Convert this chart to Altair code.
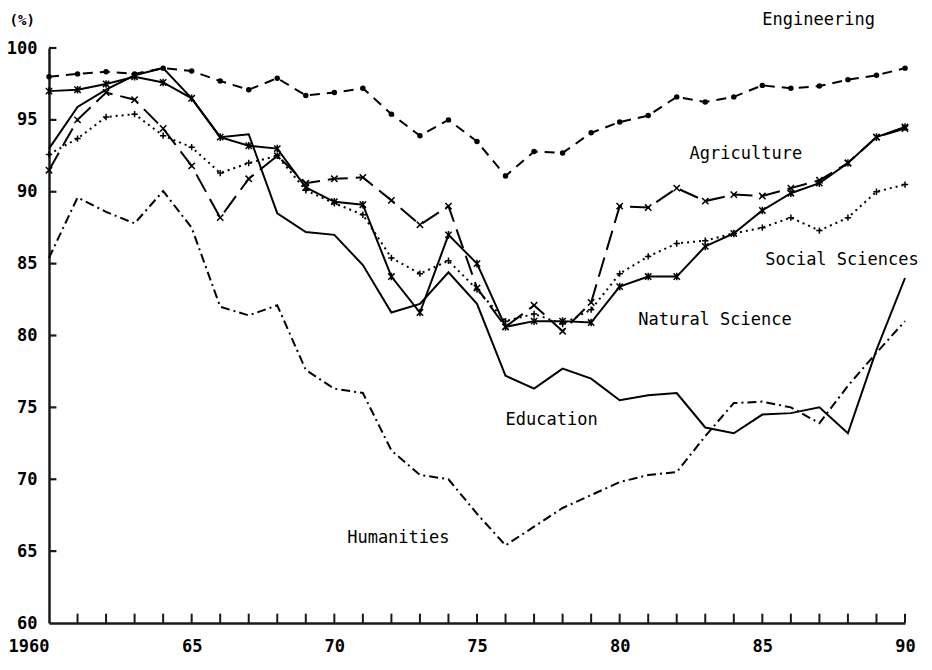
import altair as alt
import pandas as pd

years = list(range(1960, 1991))

engineering = [98.0, 98.2, 98.35, 98.2, 98.6, 98.4, 97.7, 97.1, 97.9, 96.7,
               96.9, 97.2, 95.4, 93.9, 95.0, 93.5, 91.1, 92.8, 92.7, 94.1,
               94.85, 95.3, 96.6, 96.25, 96.6, 97.4, 97.2, 97.35, 97.8, 98.1, 98.6]
agriculture = [91.5, 95.0, 96.9, 96.4, 94.4, 91.8, 88.2, 90.9, 92.5, 90.6,
               90.9, 91.0, 89.4, 87.7, 89.0, 83.3, 80.6, 82.1, 80.3, 82.3,
               89.0, 88.9, 90.25, 89.35, 89.8, 89.7, 90.25, 90.8, 92.0, 93.8, 94.4]
natural_science = [97.0, 97.1, 97.5, 98.0, 97.6, 96.5, 93.8, 93.2, 93.0, 90.3,
                   89.3, 89.1, 84.1, 81.6, 87.0, 85.0, 80.6, 81.0, 81.0, 80.9,
                   83.4, 84.1, 84.1, 86.2, 87.1, 88.7, 89.9, 90.6, 92.0, 93.8, 94.5]
social_sciences = [92.6, 93.7, 95.2, 95.4, 93.9, 93.1, 91.3, 92.0, 92.5, 90.1,
                   89.2, 88.4, 85.4, 84.3, 85.2, 83.2, 81.0, 81.5, 80.8, 81.8,
                   84.3, 85.5, 86.4, 86.6, 87.1, 87.5, 88.2, 87.3, 88.2, 90.0, 90.5]
education = [93.0, 95.9, 97.1, 98.1, 98.6, 96.5, 93.8, 94.0, 88.5, 87.2,
             87.0, 84.9, 81.6, 82.2, 84.4, 82.2, 77.2, 76.3, 77.7, 77.0,
             75.5, 75.85, 76.0, 73.6, 73.2, 74.5, 74.6, 75.0, 73.2, 79.0, 84.0]
humanities = [85.4, 89.6, 88.6, 87.8, 90.05, 87.5, 82.0, 81.4, 82.1, 77.6,
              76.3, 76.0, 72.0, 70.3, 70.0, 67.6, 65.4, 66.7, 68.0, 68.9,
              69.8, 70.3, 70.5, 73.0, 75.3, 75.4, 75.0, 73.9, 76.5, 78.8, 81.0]

x_tick_values = [1960, 1965, 1970, 1975, 1980, 1985, 1990]
x_tick_labels = ["1960", "65", "70", "75", "80", "85", "90"]
y_tick_values = [60, 65, 70, 75, 80, 85, 90, 95, 100]

label_names = ["Engineering", "Agriculture", "Social Sciences", "Natural Science", "Education", "Humanities"]
label_x = [1985.0, 1982.45, 1985.1, 1980.65, 1976.0, 1970.45]
label_y = [101.95, 92.6, 85.25, 81.05, 74.1, 65.9]

FONT = "DejaVu Sans Mono"
INK = "#1a1a1a"
X_MIN, X_MAX, Y_MIN, Y_MAX = 1960, 1990, 60, 100

xscale = alt.Scale(domain=[X_MIN, X_MAX], nice=False, zero=False)
yscale = alt.Scale(domain=[Y_MIN, Y_MAX], nice=False, zero=False)

label_expr = " : ".join(
    f"datum.value == {v} ? '{t}'" for v, t in zip(x_tick_values, x_tick_labels)
) + " : ''"

X_AX = alt.Axis(values=x_tick_values, labelExpr=label_expr, ticks=False, grid=False,
                title=None, labelPadding=15, labelFontSize=17, domain=True,
                domainColor=INK, domainWidth=2.5,
                labelAlign={"condition": {"test": "datum.value == 1960", "value": "right"}, "value": "center"})
Y_AX = alt.Axis(values=y_tick_values, ticks=False, grid=False, title=None, labelPadding=12,
                labelFontSize=17, domain=True, domainColor=INK, domainWidth=2.5)

# inward tick marks along both axes, drawn through the scales
xt = pd.DataFrame({"year": years[1:]})
xt["y0"] = float(Y_MIN)
xt["y1"] = Y_MIN + 0.65
yt = pd.DataFrame({"value": y_tick_values[1:]})
yt["x0"] = float(X_MIN)
yt["x1"] = X_MIN + 0.26

layers = [
    alt.Chart(xt).mark_rule(strokeWidth=2, color=INK, opacity=1).encode(
        x=alt.X("year:Q", scale=xscale, axis=X_AX),
        y=alt.Y("y0:Q", scale=yscale, axis=Y_AX),
        y2="y1"),
    alt.Chart(yt).mark_rule(strokeWidth=2.2, color=INK, opacity=1).encode(
        y=alt.Y("value:Q", scale=yscale),
        x=alt.X("x0:Q", scale=xscale),
        x2="x1"),
]

series = [
    ("Engineering", engineering, [10, 7], "circle", True),
    ("Agriculture", agriculture, [20, 8], "M-1,-1L1,1M1,-1L-1,1", False),
    ("Natural Science", natural_science, [], "M-1,-1L1,1M1,-1L-1,1M0,-1.2L0,1.2", False),
    ("Social Sciences", social_sciences, [2, 4], "M-1,0L1,0M0,-1L0,1", False),
    ("Education", education, [], None, False),
    ("Humanities", humanities, [9, 4, 2, 4], None, False),
]

for name, vals, dash, shape, filled in series:
    df = pd.DataFrame({"year": years, "value": vals, "field": name})
    base = alt.Chart(df)
    line_kwargs = dict(color="black", strokeWidth=2)
    if dash:
        line_kwargs["strokeDash"] = dash
    layers.append(base.mark_line(**line_kwargs).encode(
        x=alt.X("year:Q", scale=xscale), y=alt.Y("value:Q", scale=yscale)))
    if shape:
        layers.append(base.mark_point(shape=shape, filled=filled, color="black",
                                      strokeWidth=1.5, size=40 if not filled else 30,
                                      opacity=1).encode(x="year:Q", y="value:Q"))

lab = pd.DataFrame({"label": label_names, "x": label_x, "y": label_y})
layers.append(alt.Chart(lab).mark_text(align="left", baseline="middle", font=FONT,
                                       fontSize=17, color="black").encode(
    x="x:Q", y="y:Q", text="label:N"))

unit = pd.DataFrame({"label": ["(%)"], "x": [1958.62], "y": [101.85]})
layers.append(alt.Chart(unit).mark_text(align="left", baseline="middle", font=FONT,
                                        fontSize=14, fontWeight="bold", color="black").encode(
    x="x:Q", y="y:Q", text="label:N"))

chart = alt.layer(*layers).properties(
    width=856, height=575,
    autosize=alt.AutoSizeParams(type="none"),
    padding={"left": 41, "top": 40, "right": 15, "bottom": 35},
    background="white",
).configure_view(stroke=None).configure_axis(
    labelFont=FONT, labelFontWeight="bold", labelColor="black",
)

chart.save("out.html", embed_options={"renderer": "svg", "actions": False})
